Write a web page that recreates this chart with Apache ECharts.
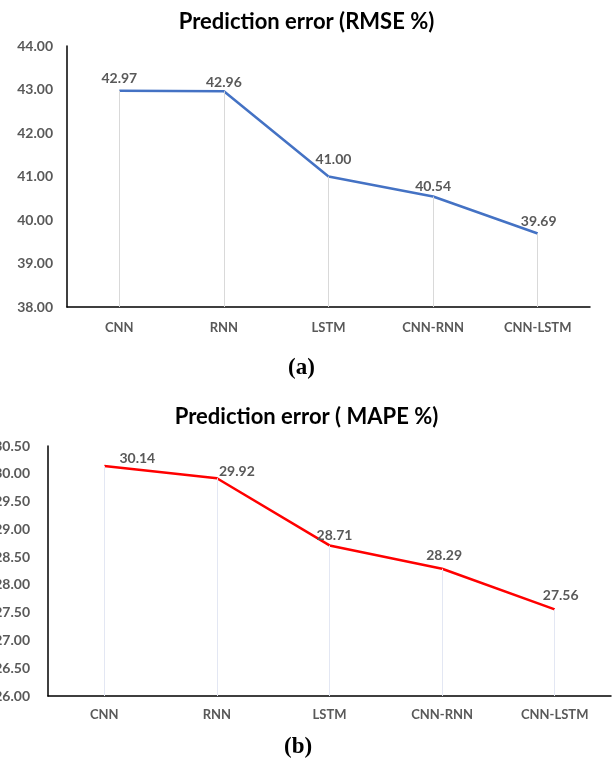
<!DOCTYPE html>
<html>
<head>
<meta charset="utf-8">
<script src="https://cdn.jsdelivr.net/npm/echarts@6/dist/echarts.min.js"></script>
<style>
html,body{margin:0;padding:0;background:#fff;}
#c{width:613px;height:763px;}
</style>
</head>
<body>
<div id="c"></div>
<script>
// ---- data ----
const categories = ['CNN', 'RNN', 'LSTM', 'CNN-RNN', 'CNN-LSTM'];
const rmseValues = [42.97, 42.96, 41.00, 40.54, 39.69];
const mapeValues = [30.14, 29.92, 28.71, 28.29, 27.56];
const rmseTicks = { min: 38, max: 44, interval: 1 };
const mapeTicks = { min: 26, max: 30.5, interval: 0.5 };
const titleA = 'Prediction error (RMSE %)';
const titleB = 'Prediction error ( MAPE %)';

// ---- styles ----
const FONT = 'Lato';
const GRAY = '#595959';
const labelShiftA = [[0, -12], [0, -9], [5, -17], [0, -10], [1, -12]];
const labelShiftB = [[33, -8], [20, -7], [5, -10], [2, -13], [6, -14]];

function dropLines(values, min) {
  return values.map((v, i) => [{ coord: [categories[i], min] }, { coord: [categories[i], v] }]);
}
function shiftLayout(shifts) {
  return p => ({ dx: shifts[p.dataIndex][0], dy: shifts[p.dataIndex][1], hideOverlap: false });
}

const numStyle = { color: GRAY, fontFamily: FONT, fontWeight: 'bold', fontSize: 14 };
const catStyle = { color: GRAY, fontFamily: FONT, fontWeight: 'bold', fontSize: 13 };
const titleStyle = { fontFamily: FONT, fontWeight: 'bold', fontSize: 22, color: '#000' };

const chart = echarts.init(document.getElementById('c'), null, { renderer: 'canvas' });
chart.setOption({
  animation: false,
  backgroundColor: '#fff',
  title: [
    { text: titleA, left: 'center', top: 6, textStyle: titleStyle },
    { text: titleB, left: 'center', top: 401, textStyle: titleStyle }
  ],
  grid: [
    { left: 67, right: 23, top: 46, bottom: 456, outerBoundsMode: 'none', containLabel: false },
    { left: 48, right: 2, top: 446, bottom: 67, outerBoundsMode: 'none', containLabel: false }
  ],
  xAxis: [
    { type: 'category', gridIndex: 0, data: categories, axisTick: { show: false },
      axisLine: { lineStyle: { color: '#000', width: 1.5 } }, axisLabel: Object.assign({ margin: 14 }, catStyle) },
    { type: 'category', gridIndex: 1, data: categories, axisTick: { show: false },
      axisLine: { lineStyle: { color: '#000', width: 1.5 } }, axisLabel: Object.assign({ margin: 12 }, catStyle) }
  ],
  yAxis: [
    { type: 'value', gridIndex: 0, min: rmseTicks.min, max: rmseTicks.max, interval: rmseTicks.interval,
      axisLine: { show: true, lineStyle: { color: '#000', width: 1.5 } }, axisTick: { show: false }, splitLine: { show: false },
      axisLabel: Object.assign({ margin: 14, formatter: v => v.toFixed(2) }, numStyle) },
    { type: 'value', gridIndex: 1, min: mapeTicks.min, max: mapeTicks.max, interval: mapeTicks.interval,
      axisLine: { show: true, lineStyle: { color: '#000', width: 1.5 } }, axisTick: { show: false }, splitLine: { show: false },
      axisLabel: Object.assign({ margin: 18, formatter: v => v.toFixed(2) }, numStyle) }
  ],
  series: [
    {
      type: 'line', xAxisIndex: 0, yAxisIndex: 0,
      data: rmseValues,
      symbol: 'circle', symbolSize: 1, showSymbol: true,
      lineStyle: { color: '#4472C4', width: 2.5 }, itemStyle: { color: 'rgba(0,0,0,0)' },
      label: Object.assign({ show: true, position: 'inside', formatter: p => Number(p.value).toFixed(2) }, numStyle),
      labelLayout: shiftLayout(labelShiftA),
      markLine: { silent: true, symbol: 'none', label: { show: false }, lineStyle: { color: '#d9d9d9', width: 1, type: 'solid' },
        data: dropLines(rmseValues, rmseTicks.min) },
      z: 3
    },
    {
      type: 'line', xAxisIndex: 1, yAxisIndex: 1,
      data: mapeValues,
      symbol: 'circle', symbolSize: 1, showSymbol: true,
      lineStyle: { color: '#FF0000', width: 2.5 }, itemStyle: { color: 'rgba(0,0,0,0)' },
      label: Object.assign({ show: true, position: 'inside', formatter: p => Number(p.value).toFixed(2) }, numStyle),
      labelLayout: shiftLayout(labelShiftB),
      markLine: { silent: true, symbol: 'none', label: { show: false }, lineStyle: { color: '#e3e7f3', width: 1, type: 'solid' },
        data: dropLines(mapeValues, mapeTicks.min) },
      z: 3
    }
  ],
  graphic: [
    { type: 'text', left: 288, top: 357, style: { text: '(a)', font: 'bold 23px "Liberation Serif"', fill: '#000' } },
    { type: 'text', left: 284, top: 736, style: { text: '(b)', font: 'bold 23px "Liberation Serif"', fill: '#000' } }
  ]
});
</script>
</body>
</html>
